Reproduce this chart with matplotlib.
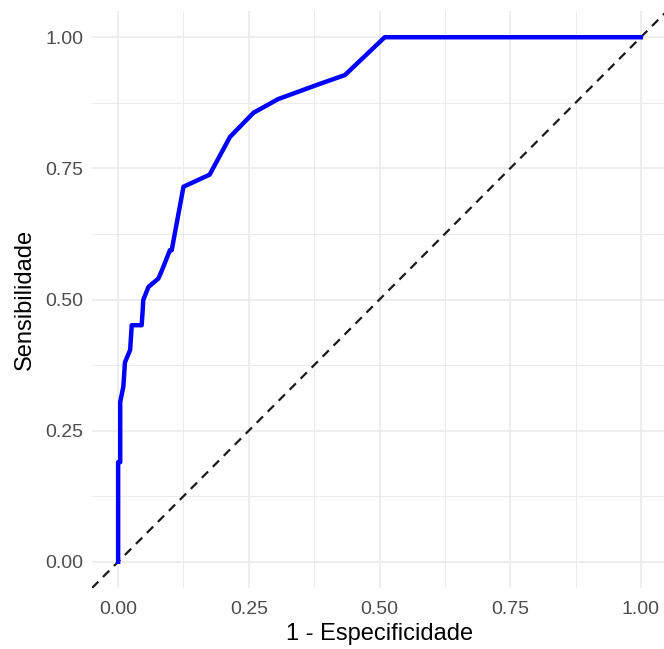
import matplotlib
matplotlib.use("Agg")
import matplotlib.pyplot as plt
from matplotlib.ticker import MultipleLocator

plt.rcParams['font.family'] = ['Liberation Sans', 'DejaVu Sans']

# curva ROC
fpr = [0.0, 0.0, 0.004, 0.004, 0.010, 0.013, 0.023, 0.026, 0.045, 0.047, 0.048,
       0.058, 0.077, 0.084, 0.099, 0.1025, 0.125, 0.175, 0.214, 0.259, 0.306,
       0.38, 0.434, 0.51, 1.0]
tpr = [0.0, 0.19, 0.19, 0.305, 0.334, 0.38, 0.404, 0.451, 0.451, 0.48, 0.499,
       0.524, 0.540, 0.556, 0.594, 0.594, 0.715, 0.738, 0.81, 0.856, 0.882,
       0.909, 0.928, 1.0, 1.0]
ticks = [0.0, 0.25, 0.5, 0.75, 1.0]
tick_labels = ['0.00', '0.25', '0.50', '0.75', '1.00']

fig = plt.figure(figsize=(6.64, 6.49), dpi=100)
ax = fig.add_axes([92/664, 1 - 588/649, 575/664, 577/649])

xlim = (-0.05, 1.05)
ax.plot(xlim, xlim, color='#1a1a1a', lw=1.6, ls=(0, (4, 3)), zorder=2)
ax.plot(fpr, tpr, color='#0000ff', lw=3.2, zorder=3, solid_joinstyle='round')

ax.set_xlim(*xlim)
ax.set_ylim(-0.05, 1.05)
ax.set_xticks(ticks)
ax.set_xticklabels(tick_labels)
ax.set_yticks(ticks)
ax.set_yticklabels(tick_labels)
ax.xaxis.set_minor_locator(MultipleLocator(0.125))
ax.yaxis.set_minor_locator(MultipleLocator(0.125))
ax.grid(which='major', color='#ebebeb', lw=1.2)
ax.grid(which='minor', color='#ebebeb', lw=0.7)
ax.set_axisbelow(True)
ax.tick_params(which='both', length=0, labelsize=14, labelcolor='#4d4d4d')
ax.tick_params(axis='x', pad=9)
ax.tick_params(axis='y', pad=6)
for s in ax.spines.values():
    s.set_visible(False)

ax.set_xlabel('1 - Especificidade', fontsize=17, color='black', labelpad=4)
ax.set_ylabel('Sensibilidade', fontsize=17, color='black', labelpad=7)

fig.savefig('out.png', dpi=100)
